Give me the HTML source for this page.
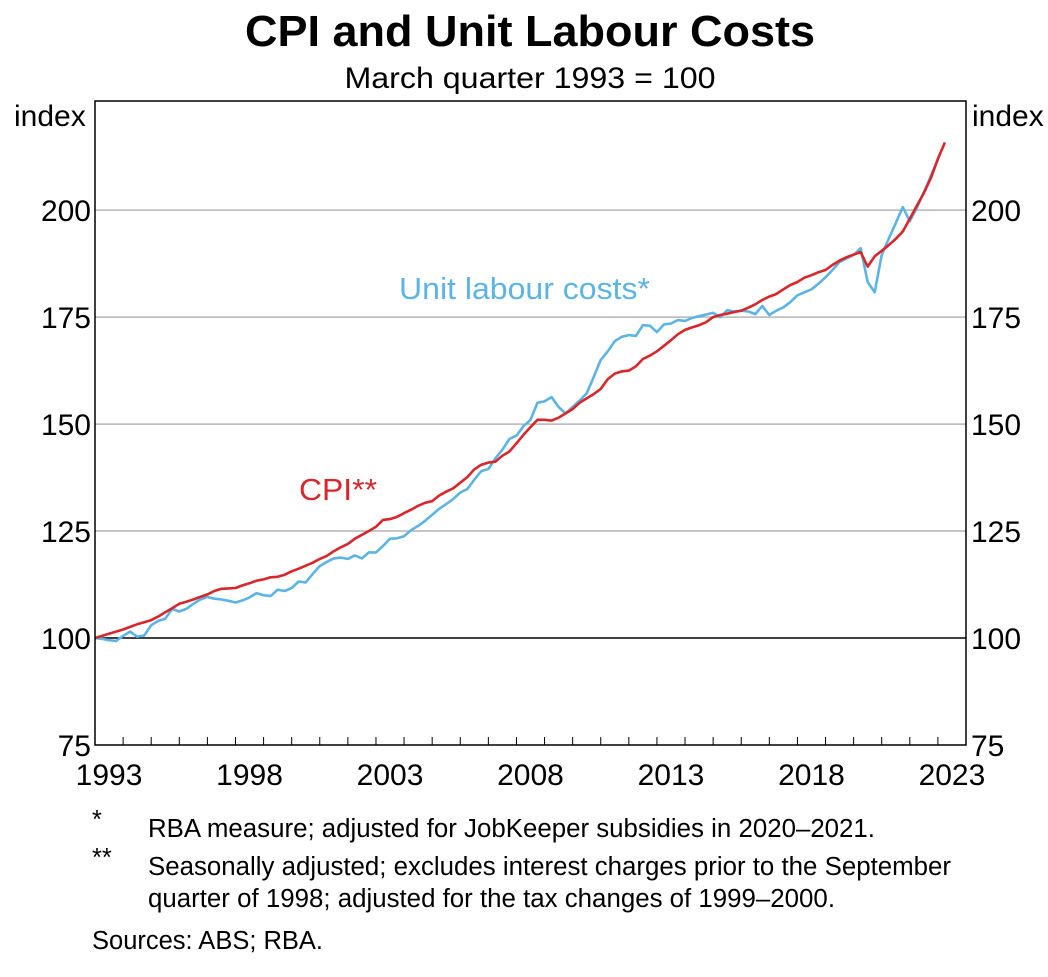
<!DOCTYPE html>
<html><head><meta charset="utf-8"><style>
body{margin:0;background:#fff;font-family:"Liberation Sans",Arial,sans-serif;}
svg text{font-family:"Liberation Sans",Arial,sans-serif;}
</style></head><body>
<svg id="chart" width="1048" height="972" viewBox="0 0 1048 972" xmlns="http://www.w3.org/2000/svg">
<text x="530" y="46" font-size="44" font-weight="bold" text-anchor="middle" textLength="570" lengthAdjust="spacingAndGlyphs">CPI and Unit Labour Costs</text>
<text x="530" y="88" font-size="30" text-anchor="middle" textLength="371" lengthAdjust="spacingAndGlyphs">March quarter 1993 = 100</text>
<text x="14" y="126" font-size="30">index</text>
<text x="972" y="126" font-size="30">index</text>
<g id="grid"></g>
<g id="series"></g>
<rect x="95" y="101" width="871" height="644" fill="none" stroke="#000" stroke-width="1.5"/>
<g id="axes"></g>
<text x="399" y="299" font-size="31" fill="#5cb4e4" textLength="251" lengthAdjust="spacingAndGlyphs">Unit labour costs*</text>
<text x="299" y="500" font-size="31" fill="#d9262b" textLength="78" lengthAdjust="spacingAndGlyphs">CPI**</text>
<g font-size="25.5">
<text x="92" y="828">*</text>
<text x="148" y="837" textLength="727" lengthAdjust="spacingAndGlyphs">RBA measure; adjusted for JobKeeper subsidies in 2020–2021.</text>
<text x="92" y="866">**</text>
<text x="148" y="875" textLength="803" lengthAdjust="spacingAndGlyphs">Seasonally adjusted; excludes interest charges prior to the September</text>
<text x="148" y="907" textLength="687" lengthAdjust="spacingAndGlyphs">quarter of 1998; adjusted for the tax changes of 1999–2000.</text>
<text x="92" y="949">Sources: ABS; RBA.</text>
</g>
</svg>
<script>
const yTicks=[75,100,125,150,175,200];
const xTickLabels=[1993,1998,2003,2008,2013,2018,2023];
const startYear=1993;
const cpi=[100,100.5,101,101.5, 102,102.6,103.2,103.7, 104.2,105,106,107, 108,108.5,109,109.6, 110.2,111,111.5,111.6, 111.7,112.3,112.8,113.4, 113.7,114.2,114.3,114.8, 115.6,116.2,116.9,117.6, 118.5,119.2,120.3,121.2, 122.0,123.2,124.1,125.0, 126.0,127.6,127.8,128.3, 129.2,130.0,130.9,131.6, 132.0,133.3,134.2,135.0, 136.3,137.6,139.4,140.5, 141.0,141.2,142.6,143.6, 145.5,147.5,149.3,151.0, 151.0,150.8,151.5,152.5, 153.5,155,156,157, 158.2,160.5,161.8,162.3, 162.5,163.5,165.2,166, 167,168.3,169.6,171, 172,172.6,173.1,173.8, 175,175.5,175.8,176.2, 176.5,177.2,178,179, 179.8,180.4,181.5,182.5, 183.2,184.2,184.8,185.5, 186,187.2,188.2,189, 189.6,190.2,186.8,189.2, 190.5,191.8,193.3,195, 198,201,204,207.5, 212,215.8];
const ulc=[100,99.8,99.5,99.3, 100.5,101.5,100.3,100.6, 103,104,104.5,106.8, 106.2,106.8,108,109, 109.6,109.2,109,108.7, 108.3,108.8,109.5,110.5, 110,109.8,111.3,111.0, 111.7,113.2,113.0,115, 116.8,117.8,118.6,118.8, 118.5,119.3,118.6,120.0, 120.0,121.5,123.2,123.3, 123.8,125.2,126.2,127.4, 128.8,130.2,131.3,132.5, 134,134.8,137,139, 139.5,142,144,146.5, 147.3,149.5,151,155, 155.3,156.3,154,152.5, 154,155.5,157.2,161, 165,167,169.4,170.4, 170.8,170.6,173.1,173, 171.5,173.3,173.5,174.3, 174.1,174.8,175.2,175.6, 176,175,176.6,176.3, 176.5,176.3,175.7,177.6, 175.5,176.5,177.3,178.5, 180.1,180.8,181.5,182.8, 184.3,186,187.9,188.7, 189.5,191.1,183.2,180.8, 189.5,193.3,197,200.7, 197.4,200.5,204.2,208, 211.9];

const NS='http://www.w3.org/2000/svg';
const X0=95,X1=966,Y0=745,Y1=101;
const xMin=1993,xMax=2024,yMin=75,yMax=225.5;
function xs(t){return X0+(t-xMin)/(xMax-xMin)*(X1-X0);}
function ys(v){return Y0-(v-yMin)/(yMax-yMin)*(Y0-Y1);}
function mk(tag,attrs,parent){const e=document.createElementNS(NS,tag);for(const k in attrs)e.setAttribute(k,attrs[k]);parent.appendChild(e);return e;}
const grid=document.getElementById('grid'),axes=document.getElementById('axes'),series=document.getElementById('series');
yTicks.forEach(v=>{
  if(v>yMin){
    const l=mk('line',{x1:X0,x2:X1,y1:ys(v),y2:ys(v),stroke:v===100?'#000':'#b4b4b4','stroke-width':1.5},grid);
    
    
  }
  const a=mk('text',{x:X0-4,y:ys(v)+11,'font-size':30,'text-anchor':'end'},axes);a.textContent=v;
  
  
  const b=mk('text',{x:X1+5,y:ys(v)+11,'font-size':30,'text-anchor':'start'},axes);b.textContent=v;
  
  
});
for(let yr=xMin+1;yr<xMax;yr++){
  const t=mk('line',{x1:xs(yr),x2:xs(yr),y1:Y0,y2:Y0-8,stroke:'#000','stroke-width':1},axes);
  
  
}
xTickLabels.forEach(yr=>{
  const t=mk('text',{x:xs(yr+0.5),y:785,'font-size':30,'text-anchor':'middle'},axes);t.textContent=yr;
  
  
});
function line(arr,color,name){
  const pts=arr.map((v,i)=>xs(startYear+i/4).toFixed(1)+','+ys(v).toFixed(1)).join(' ');
  const p=mk('polyline',{points:pts,fill:'none',stroke:color,'stroke-width':2.6,'stroke-linejoin':'round'},series);
  
  
}
line(ulc,'#5cb4e4','ulc-line');
line(cpi,'#d9262b','cpi-line');
</script>
</body></html>
